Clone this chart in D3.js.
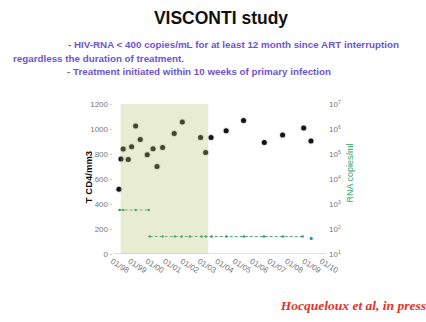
<!DOCTYPE html>
<html>
<head>
<meta charset="utf-8">
<script src="https://cdn.jsdelivr.net/npm/d3@7"></script>
<style>
  body { margin: 0; background: #fff; }
  svg { display: block; font-family: "Liberation Sans", Arial, sans-serif; }
</style>
</head>
<body>
<svg></svg>
<script>
// Chart data
var cd4Dates = ["1998-05-05", "1998-06-18", "1998-08-03", "1998-11-17", "1999-01-26", "1999-04-20",
    "1999-07-27", "1999-12-20", "2000-04-20", "2000-07-12", "2000-11-06", "2001-07-08", "2001-12-24",
    "2003-01-12", "2003-04-28", "2003-08-19", "2004-07-01", "2005-07-01", "2006-09-09", "2007-09-27",
    "2008-12-13", "2009-05-15"];
var cd4Values = [518, 760, 840, 757, 858, 1024, 917, 795, 843, 700, 853, 965, 1056,
    933, 813, 933, 987, 1069, 893, 952, 1008, 904];

// RNA copies/ml (null = break in the line)
var rnaDates = ["1998-05-20", "1998-08-03", "1999-04-20", "2000-01-20", "2000-02-01", "2000-02-10",
    "2000-11-06", "2001-07-20", "2001-12-10", "2002-06-01", "2003-02-01", "2003-05-01", "2003-08-30",
    "2004-07-10", "2005-07-08", "2006-09-01", "2007-10-01", "2008-11-20"];
var rnaValues = [575, 575, 575, 575, null, 50, 50, 50, 50, 50, 50, 50, 50, 50, 50, 50, 50, 50];
var rnaLastDate = "2009-05-20";
var rnaLastValue = 42;

// period on treatment (shaded)
var artPeriod = ["1998-06-10", "2003-06-20"];

var xTickLabels = ["01/98", "01/99", "01/00", "01/01", "01/02", "01/03", "01/04",
    "01/05", "01/06", "01/07", "01/08", "01/09", "01/10"];
var cd4Ticks = [0, 200, 400, 600, 800, 1000, 1200];
var rnaTicks = [1, 2, 3, 4, 5, 6, 7];

var subtitle = [
    { text: "- HIV-RNA < 400 copies/mL for at least 12 month since ART interruption", x: 68 },
    { text: "regardless the duration of treatment.", x: 13 },
    { text: "- Treatment initiated within 10 weeks of primary infection", x: 67 }
];

var w = 426, h = 322;
var parse = d3.timeParse("%Y-%m-%d");

var svg = d3.select("svg").attr("width", w).attr("height", h);

var x = d3.scaleTime()
    .domain([parse("1998-01-01"), parse("2010-01-01")])
    .range([113, 322]);
var y = d3.scaleLinear().domain([0, 1200]).range([254, 104]);
var yRna = d3.scaleLog().domain([10, 1e7]).range([254, 104]);

// title + subtitle
svg.append("text")
    .attr("x", 221).attr("y", 24)
    .attr("text-anchor", "middle")
    .style("font-size", "17.5px").style("font-weight", "bold").style("fill", "#111")
    .text("VISCONTI study");

svg.selectAll(".sub")
    .data(subtitle)
    .enter().append("text")
    .attr("class", "sub")
    .attr("x", d => d.x)
    .attr("y", (d, i) => 48 + i * 13.5)
    .style("font-size", "9.8px").style("font-weight", "bold").style("fill", "#6f55c8")
    .text(d => d.text);

// baseline
svg.append("line")
    .attr("x1", 114).attr("x2", 326)
    .attr("y1", 253.5).attr("y2", 253.5)
    .style("stroke", "#e2e2e2");

// left axis
svg.append("g")
    .attr("transform", "translate(112,0)")
    .call(d3.axisLeft(y).tickValues(cd4Ticks).tickFormat(d3.format("d")).tickSize(2).tickPadding(2))
    .call(g => g.select(".domain").remove())
    .call(g => g.selectAll("line").style("stroke", "#ccc"))
    .call(g => g.selectAll("text").style("font-size", "8px").style("fill", "#777")
        .style("font-family", "Liberation Sans, Arial, sans-serif"));

// right axis
var rAxis = svg.append("g").attr("transform", "translate(329,0)");
rAxis.selectAll("text")
    .data(rnaTicks)
    .enter().append("text")
    .attr("x", 0)
    .attr("y", d => yRna(Math.pow(10, d)))
    .attr("dy", "0.35em")
    .style("font-size", "8px").style("fill", "#777")
    .each(function (d) {
        var t = d3.select(this);
        t.append("tspan").text("10");
        t.append("tspan").attr("dy", "-3").style("font-size", "5px").text(d);
    });

// bottom axis labels
var xTicks = xTickLabels.map((s, i) => parse((1998 + i) + "-01-01"));
svg.selectAll(".xlab")
    .data(xTicks)
    .enter().append("text")
    .attr("class", "xlab")
    .attr("transform", d => "translate(" + x(d) + ",258) rotate(32)")
    .attr("dy", "0.7em")
    .style("font-size", "8px").style("fill", "#777")
    .text((d, i) => xTickLabels[i]);

// axis titles
svg.append("text")
    .attr("transform", "translate(92,177) rotate(-90)")
    .attr("text-anchor", "middle")
    .style("font-size", "9.5px").style("font-weight", "bold").style("fill", "#111")
    .text("T CD4/mm3");

svg.append("text")
    .attr("transform", "translate(353,173) rotate(-90)")
    .attr("text-anchor", "middle")
    .style("font-size", "9px").style("fill", "#3aa36c")
    .text("RNA copies/ml");

// RNA line
var rnaData = rnaDates.map((d, i) => ({ date: parse(d), value: rnaValues[i] }));
var line = d3.line()
    .defined(d => d.value != null)
    .x(d => x(d.date))
    .y(d => yRna(d.value));

svg.append("path")
    .datum(rnaData)
    .attr("d", line)
    .style("fill", "none")
    .style("stroke", "#4fae7c")
    .style("stroke-width", 1)
    .style("stroke-dasharray", "3,2");

svg.selectAll(".rnadot")
    .data(rnaData.filter(d => d.value != null))
    .enter().append("circle")
    .attr("class", "rnadot")
    .attr("cx", d => x(d.date))
    .attr("cy", d => yRna(d.value))
    .attr("r", 1.3)
    .style("fill", "#3a9a66");

svg.append("circle")
    .attr("cx", x(parse(rnaLastDate)))
    .attr("cy", yRna(rnaLastValue))
    .attr("r", 1.6)
    .style("fill", "#1c9aa0");

// CD4 points
var cd4Data = cd4Dates.map((d, i) => ({ date: parse(d), value: cd4Values[i] }));
svg.selectAll(".cd4")
    .data(cd4Data)
    .enter().append("circle")
    .attr("class", "cd4")
    .attr("cx", d => x(d.date))
    .attr("cy", d => y(d.value))
    .attr("r", 2.5)
    .style("fill", "#141414")
    .style("stroke", "rgba(0,0,0,0.12)")
    .style("stroke-width", 2);

// shaded ART period drawn over the marks
svg.append("rect")
    .attr("x", x(parse(artPeriod[0])))
    .attr("y", y(1200))
    .attr("width", x(parse(artPeriod[1])) - x(parse(artPeriod[0])))
    .attr("height", y(0) - y(1200))
    .style("fill", "rgb(178,192,110)")
    .style("opacity", 0.3);

// citation
svg.append("text")
    .attr("x", 426).attr("y", 310)
    .attr("text-anchor", "end")
    .style("font-family", "Liberation Serif, Times New Roman, serif")
    .style("font-size", "13.5px").style("font-weight", "bold").style("font-style", "italic")
    .style("fill", "#e5332b")
    .text("Hocqueloux et al, in press");
</script>
</body>
</html>
